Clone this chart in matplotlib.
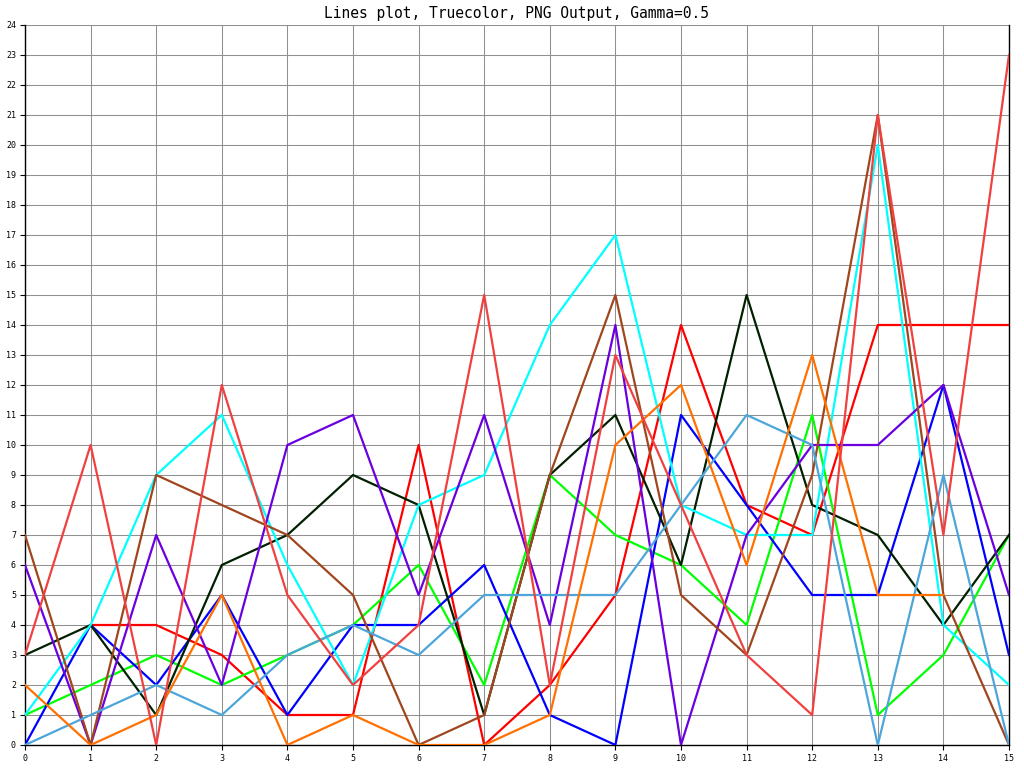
import numpy as np
import matplotlib
matplotlib.use("Agg")
import matplotlib.pyplot as plt

x = list(range(16))
nan = np.nan

red = [nan, 4, 4, 3, 1, 1, 10, 0, 2, 5, 14, 8, 7, 14, 14, 14]
green = [1, 2, 3, 2, 3, 4, 6, 2, 9, 7, 6, 4, 11, 1, 3, 7]
blue = [0, 4, 2, 5, 1, 4, 4, 6, 1, 0, 11, 8, 5, 5, 12, 3]
dark = [3, 4, 1, 6, 7, 9, 8, 1, 9, 11, 6, 15, 8, 7, 4, 7]
cyan = [1, 4, 9, 11, 6, 2, 8, 9, 14, 17, 8, 7, 7, 20, 4, 2]
purple = [6, 0, 7, 2, 10, 11, 5, 11, 4, 14, 0, 7, 10, 10, 12, 5]
brown = [7, 0, 9, 8, 7, 5, 0, 1, 9, 15, 5, 3, 9, 21, 5, 0]
lightblue = [0, 1, 2, 1, 3, 4, 3, 5, 5, 5, 8, 11, 10, 0, 9, 0]
orange = [2, 0, 1, 5, 0, 1, 0, 0, 1, 10, 12, 6, 13, 5, 5, nan]
tomato = [3, 10, 0, 12, 5, 2, 4, 15, 2, 13, 8, 3, 1, 21, 7, 23]

series = [
    (red, "#ff0000"),
    (green, "#00ff00"),
    (blue, "#0000ff"),
    (dark, "#002000"),
    (cyan, "#00ffff"),
    (purple, "#6a00e0"),
    (brown, "#a0461e"),
    (lightblue, "#4ca6da"),
    (orange, "#ff7000"),
    (tomato, "#f04040"),
]

fig = plt.figure(figsize=(10.24, 7.68), dpi=100)
ax = fig.add_axes([25 / 1024, 23 / 768, 984 / 1024, 720 / 768])

for ys, c in series:
    ax.plot(x, ys, color=c, lw=1.6, zorder=3)

ax.set_xlim(0, 15)
ax.set_ylim(0, 24)
ax.set_xticks(range(16))
ax.set_yticks(range(25))
ax.grid(True, color="#909090", lw=0.75, zorder=1)
ax.set_axisbelow(True)

for s in ["left", "bottom", "right"]:
    ax.spines[s].set_color("black")
    ax.spines[s].set_linewidth(1.0)
ax.spines["top"].set_visible(False)

ax.tick_params(direction="out", length=3.5, width=0.8, labelsize=6, pad=3)
for lab in ax.get_xticklabels() + ax.get_yticklabels():
    lab.set_family("DejaVu Sans Mono")

ax.set_title("Lines plot, Truecolor, PNG Output, Gamma=0.5",
             family="DejaVu Sans Mono", fontsize=10.5, pad=5)

fig.savefig("out.png", dpi=100)
